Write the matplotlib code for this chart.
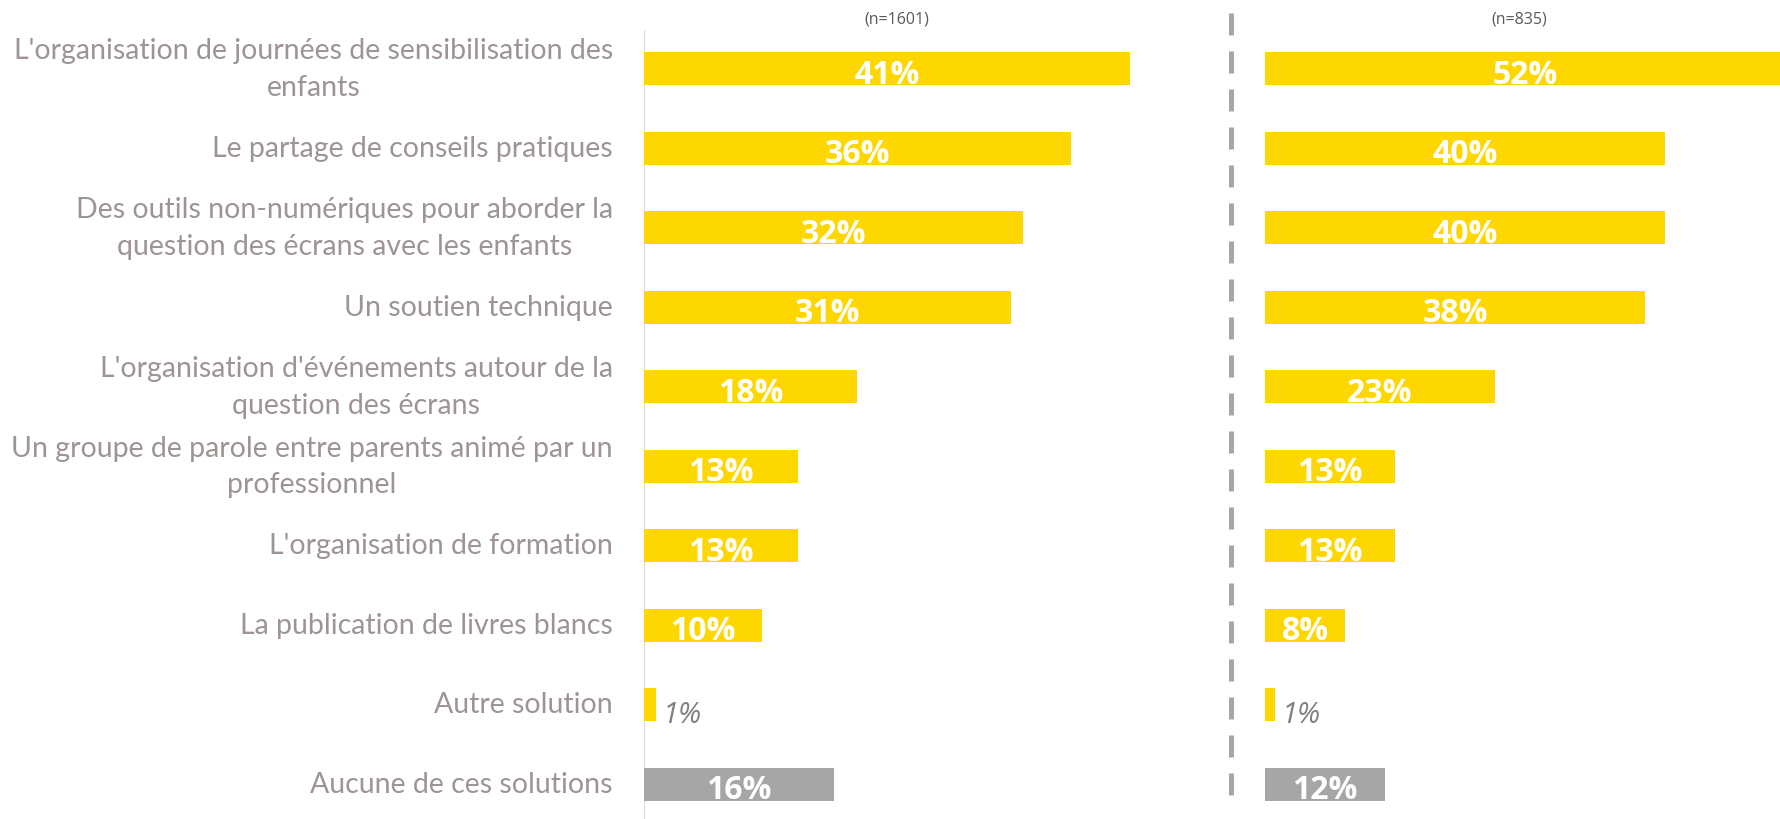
import matplotlib
matplotlib.use("Agg")
import matplotlib.pyplot as plt
from matplotlib.lines import Line2D
import numpy as np

# Survey data: share of respondents per proposed solution, two samples
categories = [
    "L'organisation de journées de sensibilisation des\nenfants",
    "Le partage de conseils pratiques",
    "Des outils non-numériques pour aborder la\nquestion des écrans avec les enfants",
    "Un soutien technique",
    "L'organisation d'événements autour de la\nquestion des écrans",
    "Un groupe de parole entre parents animé par un\nprofessionnel",
    "L'organisation de formation",
    "La publication de livres blancs",
    "Autre solution",
    "Aucune de ces solutions",
]
values_left = [41, 36, 32, 31, 18, 13, 13, 10, 1, 16]
values_right = [52, 40, 40, 38, 23, 13, 13, 8, 1, 12]
sample_left = "(n=1601)"
sample_right = "(n=835)"

YELLOW = "#FFD700"
GREY_BAR = "#A6A6A6"
LABEL_COL = "#9E9494"
SMALL_COL = "#808080"
HEAD_COL = "#595959"

W, H = 1781, 820
fig = plt.figure(figsize=(W / 100, H / 100), dpi=100)

def fx(px):
    return px / W

n = len(categories)
ypos = np.arange(n)
row0, step = 69.5, 79.5
ytop = -row0 / step
ybot = (H - row0) / step
bar_h = 33 / step

colors = [YELLOW] * (n - 1) + [GREY_BAR]

def panel(x0, x1, px_per_pct, values):
    ax = fig.add_axes([fx(x0), 0, fx(x1 - x0), 1])
    ax.set_xlim(0, (x1 - x0) / px_per_pct)
    ax.set_ylim(ybot, ytop)
    ax.axis("off")
    ax.barh(ypos, values, height=bar_h, color=colors, edgecolor="none")
    for y, v in zip(ypos, values):
        if v >= 5:
            ax.annotate(f"{v}%", (v / 2, y), xytext=(0, -4), textcoords="offset points",
                        ha="center", va="center", color="white", fontsize=23,
                        fontweight="bold", family="Open Sans")
        else:
            ax.annotate(f"{v}%", (v, y), xytext=(5, -7), textcoords="offset points",
                        ha="left", va="center", color=SMALL_COL, fontsize=21,
                        style="italic", family="Open Sans")
    return ax

ax1 = panel(644, 1232, 11.85, values_left)
ax2 = panel(1265, 1781, 10.0, values_right)

# light vertical baseline of the first panel
ax1.axvline(0, ymin=0, ymax=(H - 32) / H, color="#DCDCDC", lw=1.6, zorder=0)

# category labels
for y, c in zip(ypos, categories):
    ax1.annotate(c, (0, y), xytext=(-31, 0), textcoords="offset pixels",
                 ha="right", va="center", multialignment="center",
                 color=LABEL_COL, fontsize=20.5, family="Lato", linespacing=1.5)

# dashed separator between the two samples
sep = Line2D([fx(1231.5), fx(1231.5)], [1 - 14 / H, 1 - 797 / H],
             transform=fig.transFigure, color="#A6A6A6", lw=3.6,
             dashes=(22 / 5.0, 16 / 5.0), solid_capstyle="butt", dash_capstyle="butt")
fig.add_artist(sep)

# sample sizes
fig.text(fx(897), 1 - 19 / H, sample_left, ha="center", va="center",
         fontsize=11.5, color=HEAD_COL, family="Open Sans")
fig.text(fx(1519), 1 - 19 / H, sample_right, ha="center", va="center",
         fontsize=11.5, color=HEAD_COL, family="Open Sans")

fig.savefig("out.png", dpi=100, facecolor="white")
